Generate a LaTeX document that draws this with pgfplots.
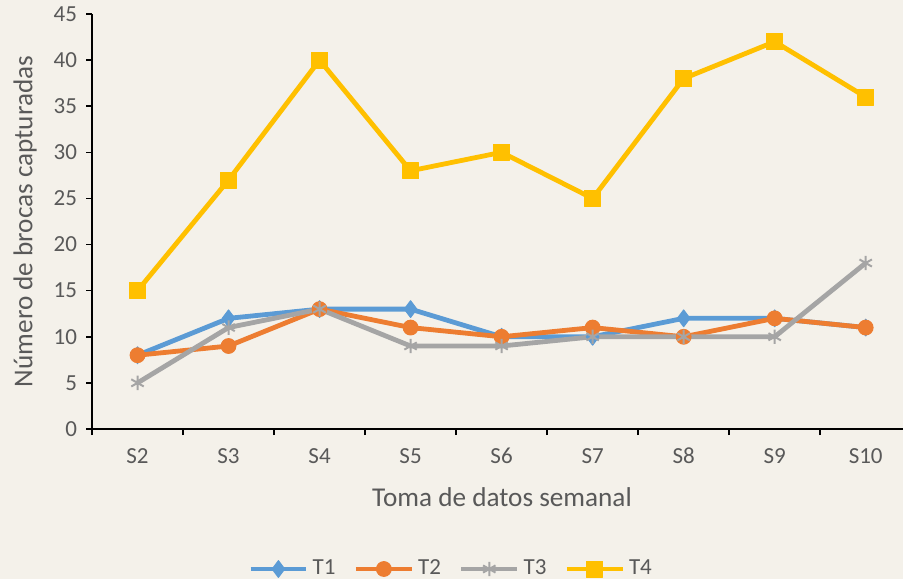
\documentclass[border=0pt]{standalone}
\usepackage{fontspec}
\setmainfont{Carlito}
\usepackage{pgfplots}
\pgfplotsset{compat=1.18}
\definecolor{bg}{HTML}{F4F1EA}
\definecolor{txt}{HTML}{595959}
\definecolor{cT1}{HTML}{5B9BD5}
\definecolor{cT2}{HTML}{ED7D31}
\definecolor{cT3}{HTML}{A5A5A5}
\definecolor{cT4}{HTML}{FFC000}

\pgfplotstableread{
x T1 T2 T3 T4
0 8 8 5 15
1 12 9 11 27
2 13 13 13 40
3 13 11 9 28
4 10 10 9 30
5 10 11 10 25
6 12 10 10 38
7 12 12 10 42
8 11 11 18 36
}\brocas

\begin{document}
\begin{tikzpicture}
\fill[bg] (-46pt,-75pt) rectangle (405.5pt,214.5pt);
\begin{axis}[
    at={(0,0)}, anchor=south west,
    scale only axis,
    width=405.5pt, height=207.5pt,
    xmin=-0.5, xmax=8.41,
    ymin=0, ymax=45,
    ytick={0,5,...,45},
    xtick={0,...,8},
    xticklabels={S2,S3,S4,S5,S6,S7,S8,S9,S10},
    minor xtick={-0.5,0.5,...,8.5},
    major x tick style={draw=none},
    axis x line*=bottom,
    axis y line*=left,
    axis line style={black, line width=0.8pt, -},
    every tick/.style={black, line width=0.8pt},
    tick align=outside,
    major tick length=3pt,
    minor tick length=3pt,
    /pgf/number format/assume math mode=true,
    tick label style={font=\fontsize{11.5}{13}\selectfont, text=txt},
    xticklabel style={yshift=-3pt},
    yticklabel style={xshift=-1pt},
    label style={font=\fontsize{13.6}{15}\selectfont, text=txt},
    xlabel={Toma de datos semanal},
    ylabel={Número de brocas capturadas},
    xlabel style={at={(205pt,-34pt)}, anchor=center},
    ylabel style={at={(-33.5pt,103.75pt)}, anchor=center, rotate=0},
    legend style={at={(180pt,-70pt)}, anchor=center, draw=none, fill=none,
        legend columns=-1, font=\fontsize{11.5}{13}\selectfont, text=txt,
        /tikz/every even column/.append style={column sep=7pt}},
    legend image code/.code={
        \draw[#1, mark=none] (0cm,0cm) -- (0.98cm,0cm);
        \draw[#1, only marks] plot coordinates {(0.49cm,0cm)};},
    every axis plot/.append style={line width=2.4pt, line join=round},
    clip=false,
]
\addplot[cT1, mark=diamond*, mark size=4.2pt, mark options={line width=0.5pt}] table[x=x, y=T1] {\brocas};
\addlegendentry{T1}
\addplot[cT2, mark=*, mark size=3.7pt, mark options={line width=0.5pt}] table[x=x, y=T2] {\brocas};
\addlegendentry{T2}
\addplot[cT3, mark=asterisk, mark size=3.6pt, mark options={line width=1pt}] table[x=x, y=T3] {\brocas};
\addlegendentry{T3}
\addplot[cT4, mark=square*, mark size=4pt, mark options={line width=0.5pt}] table[x=x, y=T4] {\brocas};
\addlegendentry{T4}
\end{axis}
\pgfresetboundingbox
\path[use as bounding box] (-46pt,-75pt) rectangle (405.5pt,214.5pt);
\end{tikzpicture}
\end{document}
